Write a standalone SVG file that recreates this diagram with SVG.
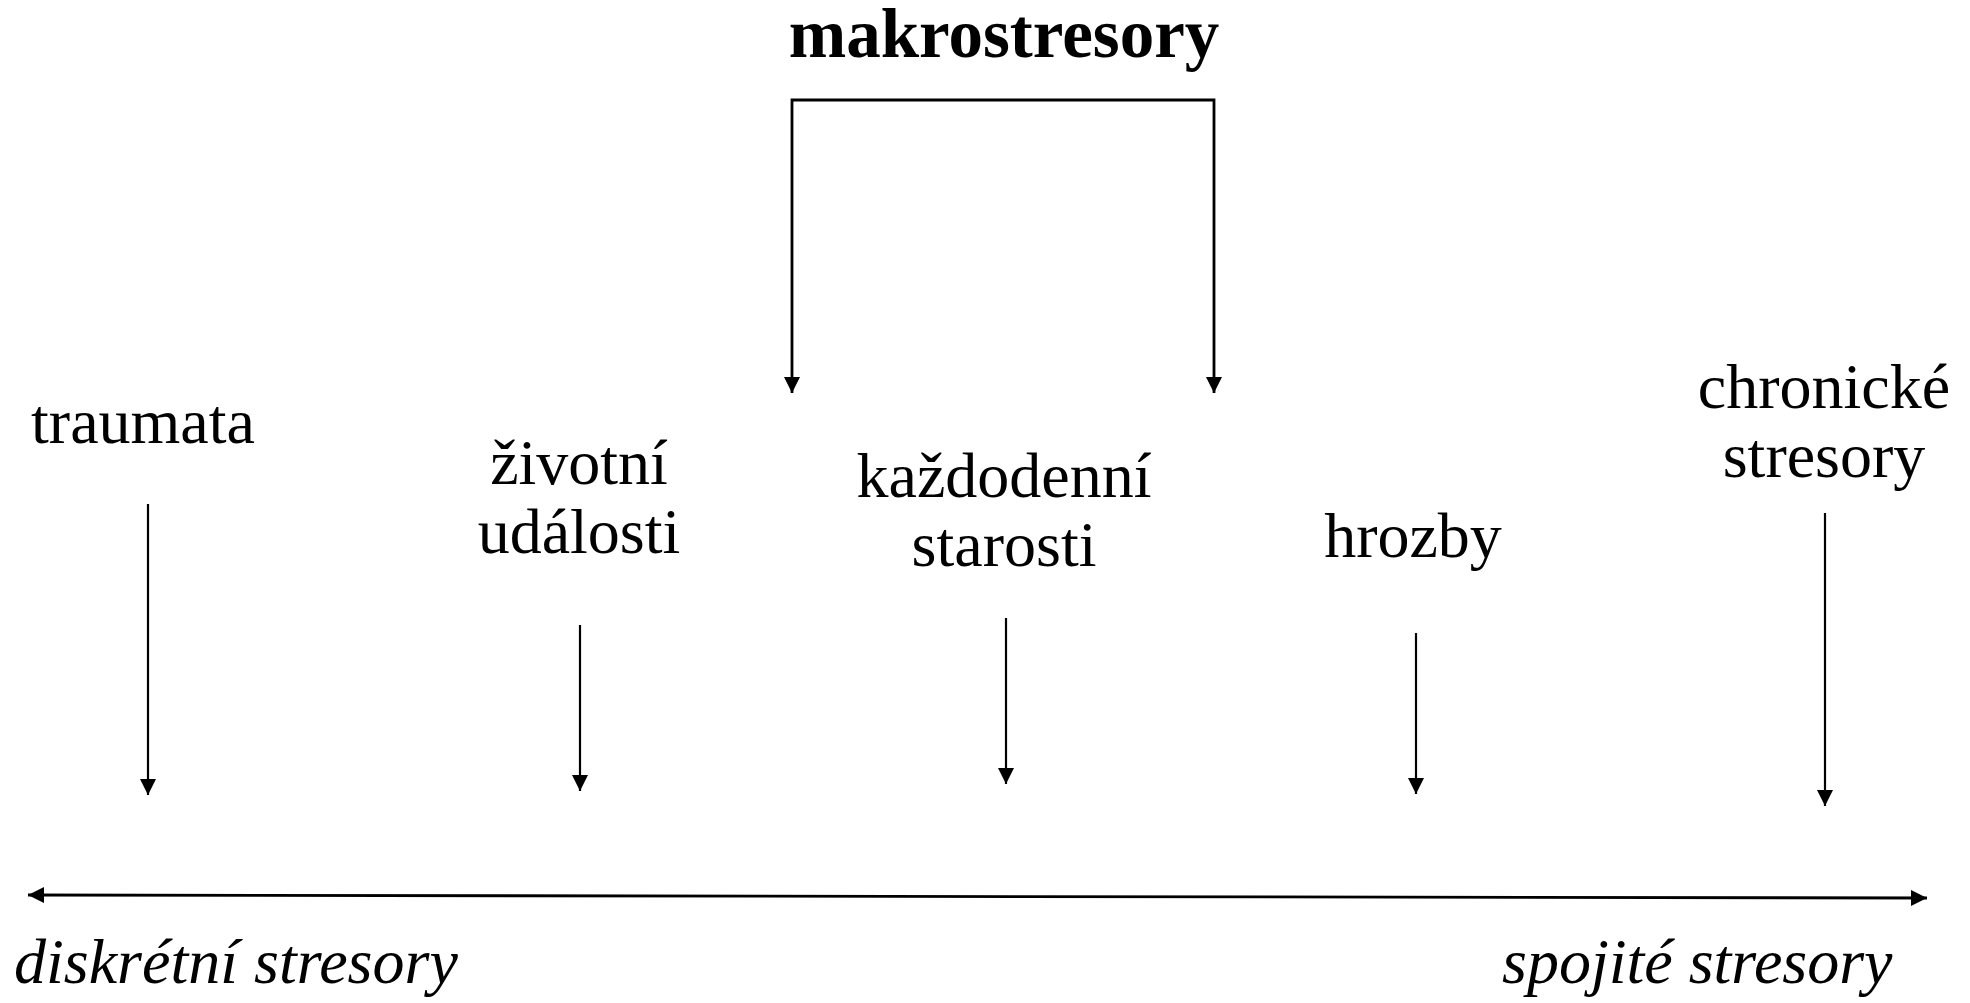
<svg xmlns="http://www.w3.org/2000/svg" width="1970" height="1003" viewBox="0 0 1970 1003">
<style>
  .lbl { font-family: "Liberation Serif", "Times New Roman", serif; font-size: 64px; fill: #000; text-anchor: middle; }
  .title { font-family: "Liberation Serif", "Times New Roman", serif; font-size: 69px; font-weight: bold; fill: #000; text-anchor: middle; }
  .axis { font-family: "Liberation Serif", "Times New Roman", serif; font-size: 64px; font-style: italic; fill: #000; }
  .conn { stroke: #000; stroke-width: 2.2; fill: none; }
  .thick { stroke-width: 2.8; }
</style>
<defs>
  <marker id="ah" markerUnits="userSpaceOnUse" markerWidth="16" markerHeight="16" refX="16" refY="8" orient="auto-start-reverse" viewBox="0 0 16 16">
    <path d="M0,0 L16,8 L0,16 Z" fill="#000"/>
  </marker>
</defs>
<rect width="1970" height="1003" fill="#fff"/>

<g id="makrostresory">
  <text class="title" x="1004" y="57">makrostresory</text>
</g>
<g id="traumata">
  <text class="lbl" x="143" y="443">traumata</text>
</g>
<g id="zivotni-udalosti">
  <text class="lbl" x="579" y="484">životní</text>
  <text class="lbl" x="579" y="553">události</text>
</g>
<g id="kazdodenni-starosti">
  <text class="lbl" x="1004" y="497">každodenní</text>
  <text class="lbl" x="1004" y="566">starosti</text>
</g>
<g id="hrozby">
  <text class="lbl" x="1413" y="557">hrozby</text>
</g>
<g id="chronicke-stresory">
  <text class="lbl" x="1824" y="408">chronické</text>
  <text class="lbl" x="1824" y="477">stresory</text>
</g>
<g id="diskretni-stresory">
  <text class="axis" x="14" y="983">diskrétní stresory</text>
</g>
<g id="spojite-stresory">
  <text class="axis" x="1502" y="983">spojité stresory</text>
</g>

<g id="connectors">
  <path class="conn thick" d="M792,393 L792,100 L1214,100 L1214,393" marker-start="url(#ah)" marker-end="url(#ah)"/>
  <line class="conn" x1="148" y1="504" x2="148" y2="795" marker-end="url(#ah)"/>
  <line class="conn" x1="580" y1="625" x2="580" y2="791" marker-end="url(#ah)"/>
  <line class="conn" x1="1006" y1="618" x2="1006" y2="784" marker-end="url(#ah)"/>
  <line class="conn" x1="1416" y1="633" x2="1416" y2="794" marker-end="url(#ah)"/>
  <line class="conn" x1="1825" y1="513" x2="1825" y2="806" marker-end="url(#ah)"/>
  <line class="conn thick" x1="28" y1="895" x2="1927" y2="898" marker-start="url(#ah)" marker-end="url(#ah)"/>
</g>
</svg>
